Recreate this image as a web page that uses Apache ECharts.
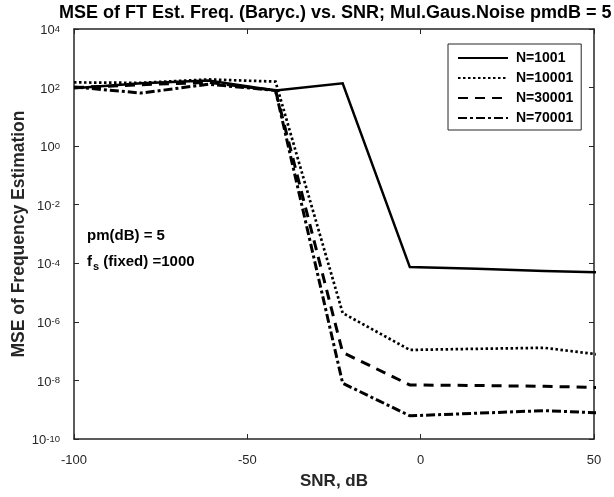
<!DOCTYPE html>
<html>
<head>
<meta charset="utf-8">
<script src="https://cdn.jsdelivr.net/npm/echarts@6/dist/echarts.min.js"></script>
<style>
html,body{margin:0;padding:0;background:#fff;}
#c{width:614px;height:497px;}
</style>
</head>
<body>
<div id="c"></div>
<script>
// SNR values (dB)
const snr = [-100, -80.625, -61.25, -41.875, -22.5, -3.125, 16.25, 35.625, 55];
// MSE series
const mseN1001  = [95, 140, 175, 80, 140, 7.4e-5, 6.5e-5, 5.5e-5, 4.8e-5];
const mseN10001 = [150, 145, 190, 160, 2e-6, 1.1e-7, 1.2e-7, 1.3e-7, 6.8e-8];
const mseN30001 = [100, 125, 150, 80, 9e-8, 7e-9, 6.7e-9, 6.3e-9, 5.6e-9];
const mseN70001 = [105, 65, 130, 80, 8e-9, 6.2e-10, 7.6e-10, 9.3e-10, 7.5e-10];
const seriesNames = ['N=1001', 'N=10001', 'N=30001', 'N=70001'];
const xTicks = [-100, -50, 0, 50];

const FONT = '"Liberation Sans", Arial, sans-serif';
const AX = '#262626';

const pair = arr => snr.map((x, i) => [x, arr[i]]);

const styles = [
  {type: 'solid', width: 2.5},
  {type: [2.5, 2.5], width: 2.7},
  {type: [10, 7], width: 3},
  {type: [9, 3, 3, 3], width: 3}
];
const dataSets = [mseN1001, mseN10001, mseN30001, mseN70001];

const chart = echarts.init(document.getElementById('c'), null, {renderer: 'canvas'});

const yLabel = {
  fontFamily: FONT, color: AX, margin: 14, padding: [3, 0, 0, 0],
  formatter: v => '{b|10}{s|' + Math.round(Math.log10(v)) + '}',
  rich: {
    b: {fontSize: 13, fontFamily: FONT, color: AX, verticalAlign: 'bottom', lineHeight: 13},
    s: {fontSize: 9.5, fontFamily: FONT, color: AX, verticalAlign: 'top', lineHeight: 9, padding: [0, 0, 10, 0]}
  }
};

chart.setOption({
  animation: false,
  backgroundColor: '#fff',
  title: {
    text: 'MSE of FT Est. Freq. (Baryc.) vs. SNR; Mul.Gaus.Noise pmdB = 5',
    left: 59, top: 4,
    padding: 0,
    textStyle: {fontFamily: FONT, fontWeight: 'bold', fontSize: 18, color: '#000'}
  },
  grid: {left: 74, right: 20, top: 29, bottom: 58, containLabel: false, outerBoundsMode: 'none'},
  legend: {
    orient: 'vertical', left: 448, top: 44,
    backgroundColor: '#fff', borderColor: AX, borderWidth: 1,
    padding: [7, 8, 5, 9], itemGap: 6, itemWidth: 50, itemHeight: 14,
    itemStyle: {opacity: 0},
    textStyle: {fontFamily: FONT, fontWeight: 'bold', fontSize: 14, color: '#000', padding: [0, 0, 0, 3]},
    data: seriesNames
  },
  xAxis: [{
    type: 'value', min: -100, max: 50, interval: 50,
    name: 'SNR, dB', nameLocation: 'middle', nameGap: 34, nameMoveOverlap: false,
    nameTextStyle: {fontFamily: FONT, fontWeight: 'bold', fontSize: 17, color: AX},
    axisLine: {show: true, onZero: false, lineStyle: {color: AX, width: 1.5}},
    axisTick: {show: true, inside: true, length: 5, lineStyle: {color: AX}},
    axisLabel: {fontFamily: FONT, fontSize: 13, color: AX, margin: 15,
      formatter: v => xTicks.indexOf(v) >= 0 ? String(v) : ''},
    splitLine: {show: false}
  }, {
    type: 'value', position: 'top', min: -100, max: 50, interval: 50,
    axisLine: {show: true, onZero: false, lineStyle: {color: AX, width: 1.5}},
    axisTick: {show: true, inside: true, length: 5, lineStyle: {color: AX}},
    axisLabel: {show: false}, splitLine: {show: false}
  }],
  yAxis: [{
    type: 'log', logBase: 10, min: 1e-10, max: 1e4, interval: 2,
    name: 'MSE of Frequency Estimation', nameLocation: 'middle', nameGap: 46, nameMoveOverlap: false,
    nameTextStyle: {fontFamily: FONT, fontWeight: 'bold', fontSize: 17.5, color: AX},
    axisLine: {show: true, onZero: false, lineStyle: {color: AX, width: 1.5}},
    axisTick: {show: true, inside: true, length: 5, lineStyle: {color: AX}},
    axisLabel: yLabel,
    minorTick: {show: false},
    splitLine: {show: false}
  }, {
    type: 'log', logBase: 10, min: 1e-10, max: 1e4, interval: 2, position: 'right',
    axisLine: {show: true, onZero: false, lineStyle: {color: AX, width: 1.5}},
    axisTick: {show: true, inside: true, length: 5, lineStyle: {color: AX}},
    axisLabel: {show: false}, splitLine: {show: false}
  }],
  graphic: [
    {type: 'text', left: 87, top: 228, style: {
      text: 'pm(dB) = 5', font: 'bold 15px ' + FONT, fill: '#000'}},
    {type: 'text', left: 87, top: 250, style: {
      text: '{f|f}{s|s}{f| (fixed) =1000}',
      rich: {
        f: {fontWeight: 'bold', fontSize: 15, fontFamily: FONT, fill: '#000', verticalAlign: 'top', lineHeight: 18},
        s: {fontWeight: 'bold', fontSize: 11, fontFamily: FONT, fill: '#000', verticalAlign: 'bottom', lineHeight: 12, padding: [11, 0, 0, 1]}
      }}}
  ],
  series: seriesNames.map((n, i) => ({
    name: n, type: 'line', xAxisIndex: 0, yAxisIndex: 0,
    data: pair(dataSets[i]),
    showSymbol: false, symbol: 'none', clip: true,
    lineStyle: {color: '#000', width: styles[i].width, type: styles[i].type, cap: 'butt', join: 'miter'},
    itemStyle: {color: '#000'}
  }))
});
</script>
</body>
</html>
